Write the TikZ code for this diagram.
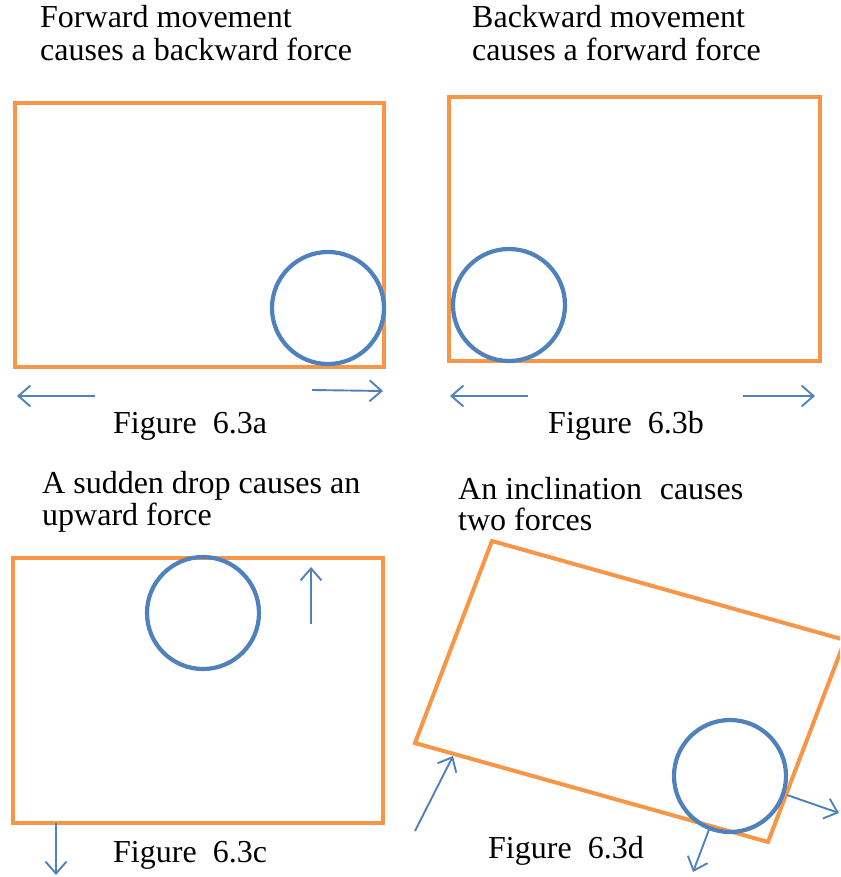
\documentclass[tikz,border=0pt]{standalone}
\usepackage{fontspec}
\setmainfont{Liberation Serif}
\usetikzlibrary{arrows.meta}
\definecolor{boxorange}{HTML}{F79646}
\definecolor{ballblue}{HTML}{4F81BD}
\tikzset{
  box/.style={draw=boxorange, line width=4pt, line join=miter},
  ball/.style={circle, draw=ballblue, line width=4.2pt, minimum size=112pt, inner sep=0pt},
  force/.style={draw=ballblue, line width=1.9pt, -{Straight Barb[length=12pt,width=21pt,line width=1.9pt]}},
  title/.style={anchor=base west, inner sep=0pt, font=\fontsize{32}{34}\selectfont},
  caption/.style={anchor=base west, inner sep=0pt, font=\fontsize{32}{34}\selectfont},
}
\begin{document}
\begin{tikzpicture}[x=1pt,y=-1pt]
\useasboundingbox (0,0) rectangle (840,877);
\clip (0,0) rectangle (840,877);
% ---------- panel a ----------
\node[title] (ta1) at (40,28) {Forward movement};
\node[title] (ta2) at (40,61) {causes a backward force};
\draw[box] (15,103) rectangle (384,367);
\node[ball] (ca) at (328,308) {};
\coordinate (a1s) at (95,396); \coordinate (a1e) at (17,396);
\coordinate (a2s) at (312,390); \coordinate (a2e) at (383,391);
\draw[force] (a1s) -- (a1e);
\draw[force] (a2s) -- (a2e);
\node[caption] (fa) at (113,433) {Figure\hspace{0.5em}6.3a};
% ---------- panel b ----------
\node[title] (tb1) at (472,28) {Backward movement};
\node[title] (tb2) at (472,61) {causes a forward force};
\draw[box] (449,97) rectangle (820,361);
\node[ball] (cb) at (509,305) {};
\coordinate (b1s) at (528,396); \coordinate (b1e) at (450,396);
\coordinate (b2s) at (743,396); \coordinate (b2e) at (815,396);
\draw[force] (b1s) -- (b1e);
\draw[force] (b2s) -- (b2e);
\node[caption] (fb) at (548,433) {Figure\hspace{0.5em}6.3b};
% ---------- panel c ----------
\node[title] (tc1) at (42,493) {A sudden drop causes an};
\node[title] (tc2) at (42,525) {upward force};
\draw[box] (13,558) rectangle (383,823);
\node[ball] (cc) at (203,613) {};
\coordinate (c1s) at (311,624); \coordinate (c1e) at (311,567);
\coordinate (c2s) at (56,823); \coordinate (c2e) at (56,875);
\draw[force] (c1s) -- (c1e);
\draw[force] (c2s) -- (c2e);
\node[caption] (fc) at (113,862) {Figure\hspace{0.5em}6.3c};
% ---------- panel d ----------
\node[title] (td1) at (458,499) {An inclination\hspace{0.3em} causes};
\node[title] (td2) at (458,530) {two forces};
\draw[box] (492,541) -- (845,640) -- (768,842) -- (415,743) -- cycle;
\node[ball] (cd) at (730,776) {};
\coordinate (d1s) at (415,831); \coordinate (d1e) at (453,756);
\coordinate (d2s) at (787,795); \coordinate (d2e) at (839,813);
\coordinate (d3s) at (710,827); \coordinate (d3e) at (693,872);
\draw[force] (d1s) -- (d1e);
\draw[force] (d2s) -- (d2e);
\draw[force] (d3s) -- (d3e);
\node[caption] (fd) at (488,858) {Figure\hspace{0.5em}6.3d};
\end{tikzpicture}
\end{document}
